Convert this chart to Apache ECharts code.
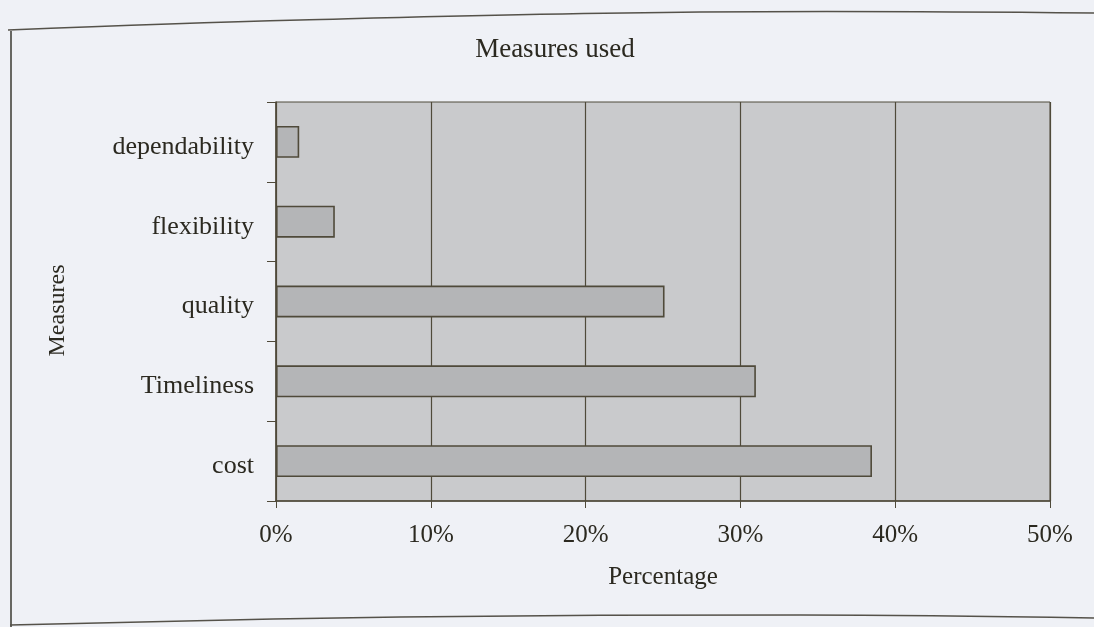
<!DOCTYPE html>
<html>
<head>
<meta charset="utf-8">
<style>
  html, body { margin: 0; padding: 0; background: #eff1f6; }
  #chart { width: 1094px; height: 627px; }
</style>
<script src="https://cdn.jsdelivr.net/npm/echarts@6/dist/echarts.min.js"></script>
</head>
<body>
<div id="chart"></div>
<script>
// Share of respondents naming each performance measure
const measures = ['dependability', 'flexibility', 'quality', 'Timeliness', 'cost'];
const shares = [1.5, 3.8, 25.1, 31.0, 38.5];
const percentTicks = [0, 10, 20, 30, 40, 50];

const ink = '#2b2920';
const rule = '#4f4a3a';
const serif = '"Liberation Serif", "DejaVu Serif", serif';

const chart = echarts.init(document.getElementById('chart'));
chart.setOption({
  backgroundColor: '#eff1f6',
  animation: false,
  title: {
    text: 'Measures used',
    left: 550,
    top: 31,
    textAlign: 'center',
    textStyle: { fontFamily: serif, fontSize: 27, fontWeight: 'normal', color: ink }
  },
  grid: {
    left: 276, right: 44, top: 102, bottom: 126,
    show: true,
    backgroundColor: '#c9cacc',
    borderColor: rule,
    borderWidth: 1
  },
  xAxis: {
    type: 'value',
    min: percentTicks[0],
    max: percentTicks[percentTicks.length - 1],
    interval: 10,
    name: 'Percentage',
    nameLocation: 'middle',
    nameGap: 64,
    nameTextStyle: { fontFamily: serif, fontSize: 25, color: ink },
    axisLine: { show: true, lineStyle: { color: rule, width: 1.5 } },
    axisTick: { show: true, length: 7, lineStyle: { color: rule } },
    splitLine: { show: true, lineStyle: { color: rule, width: 1.2 } },
    axisLabel: {
      margin: 22,
      fontFamily: serif, fontSize: 25, color: ink,
      formatter: v => v + '%'
    }
  },
  yAxis: {
    type: 'category',
    data: measures,
    inverse: true,
    name: 'Measures',
    nameLocation: 'middle',
    nameGap: 206,
    nameTextStyle: { fontFamily: serif, fontSize: 24, color: ink, padding: [0, 18, 0, 0] },
    axisLine: { show: true, lineStyle: { color: rule, width: 1.5 } },
    axisTick: { show: true, length: 9, lineStyle: { color: rule } },
    splitLine: { show: false },
    axisLabel: {
      margin: 22,
      formatter: v => '{m|' + v + '}',
      rich: {
        m: { fontFamily: serif, fontSize: 26, color: ink, padding: [10, 0, 0, 0] }
      }
    }
  },
  series: [{
    type: 'bar',
    data: shares,
    barWidth: '40%',
    itemStyle: { color: '#b4b5b7', borderColor: rule, borderWidth: 1.6 }
  }],
  graphic: [
    // frame around the figure
    { type: 'line', silent: true,
      shape: { x1: 11, y1: 31, x2: 11, y2: 627 },
      style: { stroke: '#3a3830', lineWidth: 1.5 } },
    { type: 'polyline', silent: true,
      shape: { points: [[8, 30], [300, 20], [700, 12], [1094, 13]], smooth: 0.4 },
      style: { stroke: '#55524a', lineWidth: 1.5, fill: null } },
    { type: 'polyline', silent: true,
      shape: { points: [[10, 625], [400, 617], [800, 615], [1094, 618]], smooth: 0.4 },
      style: { stroke: '#55524a', lineWidth: 1.5, fill: null } }
  ]
});
</script>
</body>
</html>
